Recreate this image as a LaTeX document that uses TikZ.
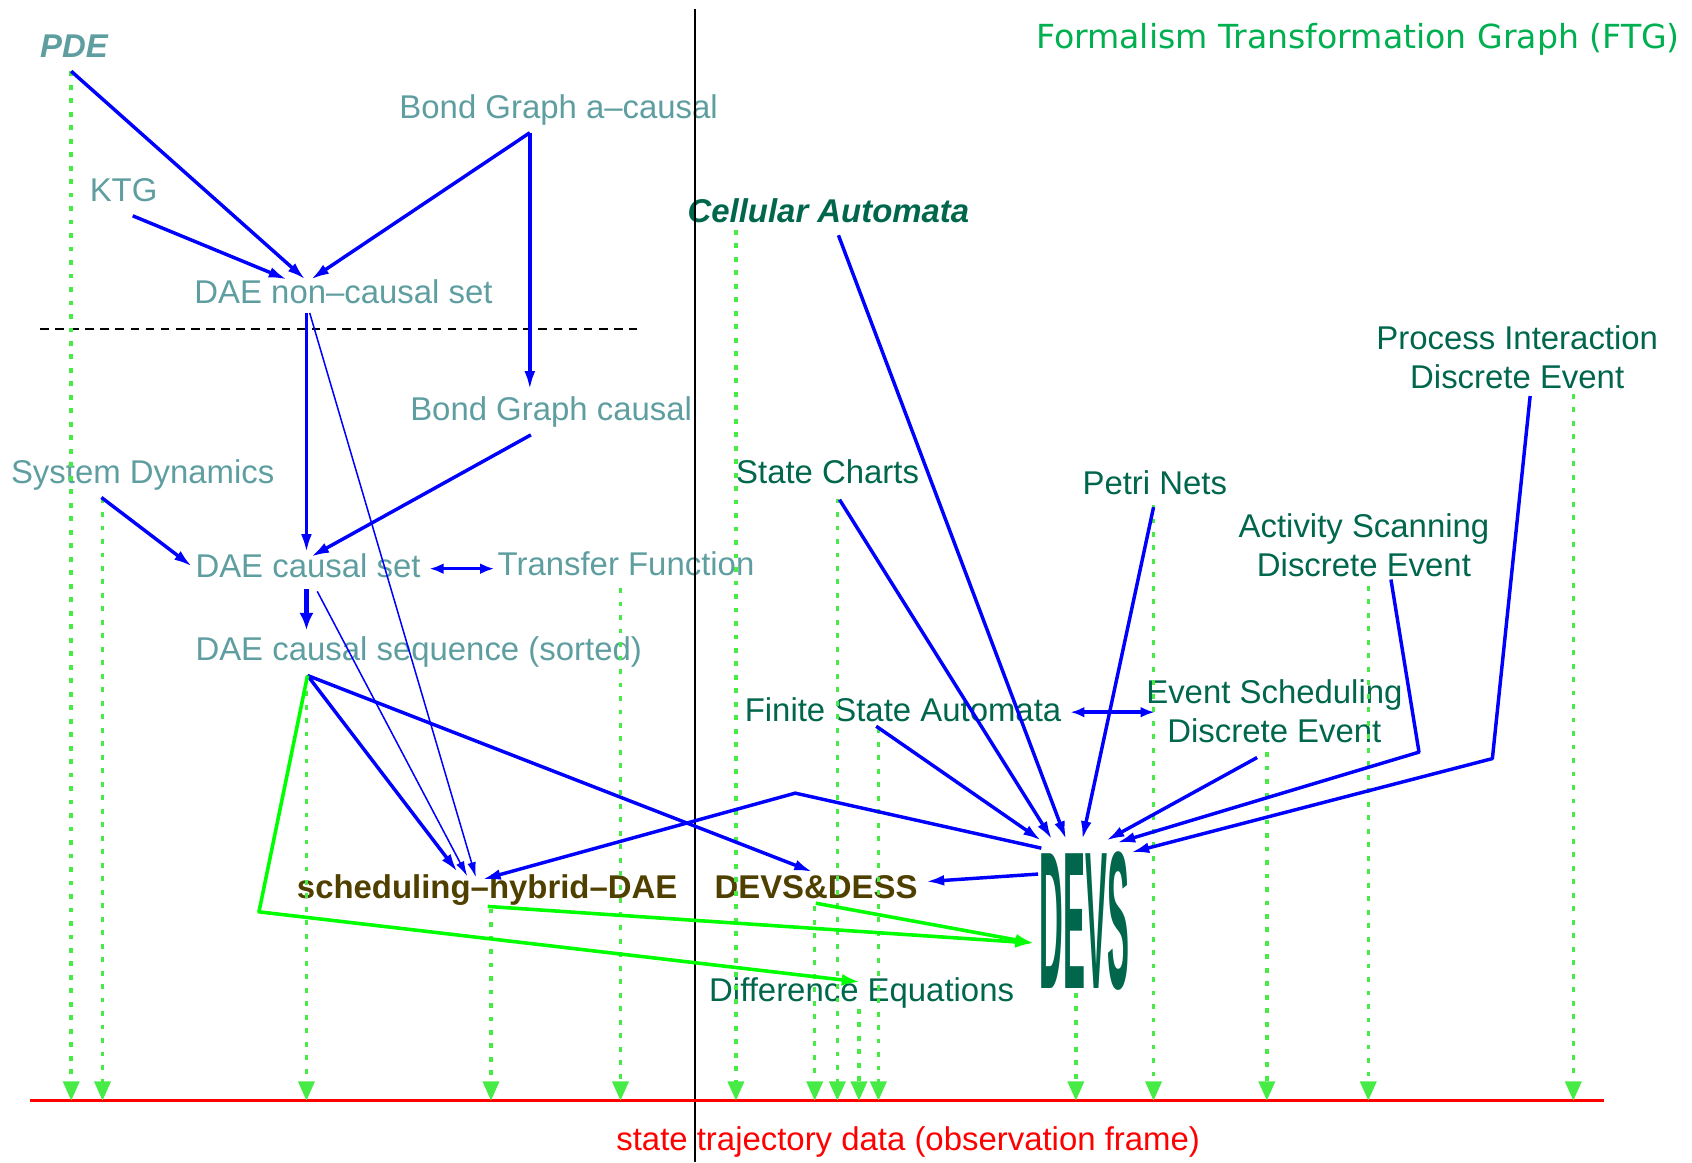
\documentclass[tikz,border=0pt]{standalone}
\usepackage{fontspec}
\setmainfont{Liberation Sans}
\newfontfamily\titlefont{DejaVu Sans}
\usetikzlibrary{arrows.meta}
\definecolor{teal1}{RGB}{95,158,160}
\definecolor{dgreen}{RGB}{0,102,76}
\definecolor{olive1}{RGB}{80,64,0}
\definecolor{tgreen}{RGB}{0,176,80}
\definecolor{lime1}{RGB}{0,255,0}
\definecolor{dotgreen}{RGB}{70,235,70}
\definecolor{blue1}{RGB}{0,0,255}
\begin{document}
\begin{tikzpicture}[x=1pt,y=-1pt,
  lbl/.style={inner sep=0pt, anchor=base west, font=\fontsize{30.5}{36}\selectfont},
  tealtxt/.style={lbl, text=teal1},
  greentxt/.style={lbl, text=dgreen},
  greentwo/.style={inner sep=0pt, align=center, text=dgreen, font=\fontsize{30.5}{36}\selectfont},
  oltxt/.style={lbl, text=olive1, font=\fontsize{30.5}{36}\selectfont\bfseries},
  barrow/.style={draw=blue1, line width=3.2pt, line join=round, -{Latex[length=17pt,width=10pt]}},
  thickarrow/.style={draw=blue1, line width=4.5pt, -{Latex[length=16pt,width=13pt]}},
  thinarrow/.style={draw=blue1, line width=1.4pt, -{Latex[length=14pt,width=8pt]}},
  dbarrow/.style={draw=blue1, line width=3.2pt, {Latex[length=13pt,width=10pt]}-{Latex[length=13pt,width=10pt]}},
  garrow/.style={draw=lime1, line width=3.3pt, line join=round, -{Latex[length=17pt,width=11pt]}},
  obs/.style={draw=dotgreen, line width=3.2pt, dash pattern=on 4.5pt off 8pt, -{Triangle[length=18pt,width=15pt]}},
]
\useasboundingbox (0,0) rectangle (1568,1077);

% ---------- texts ----------
\node[tealtxt, font=\fontsize{30.5}{36}\selectfont\bfseries\itshape] (pde) at (37,53) {PDE};
\node[tealtxt] (bga) at (370,110) {Bond Graph a--causal};
\node[tealtxt] (ktg) at (83,187) {KTG};
\node[tealtxt] (dnc) at (180,281) {DAE non--causal set};
\node[tealtxt] (bgc) at (380,390) {Bond Graph causal};
\node[tealtxt] (sd) at (10,448) {System Dynamics};
\node[tealtxt] (dcs) at (181,535) {DAE causal set};
\node[tealtxt] (tf) at (461,533) {Transfer Function};
\node[tealtxt] (dseq) at (181,612) {DAE causal sequence (sorted)};

\node[greentxt, font=\fontsize{30.5}{36}\selectfont\bfseries\itshape] (ca) at (637,206) {Cellular Automata};
\node[greentwo] (pi) at (1406,331) {Process Interaction\\Discrete Event};
\node[greentxt] (sc) at (682,448) {State Charts};
\node[greentxt] (pn) at (1003,458) {Petri Nets};
\node[greentwo] (as) at (1264,505) {Activity Scanning\\Discrete Event};
\node[greentwo] (es) at (1181,659) {Event Scheduling\\Discrete Event};
\node[greentxt] (fsa) at (690,669) {Finite State Automata};
\node[oltxt] (shd) at (275,833) {scheduling--hybrid--DAE};
\node[oltxt] (dd) at (662,833) {DEVS\&DESS};
\node[greentxt] (de) at (657,928) {Difference Equations};
\node[inner sep=0pt, anchor=base west, text=dgreen] (devs) at (963,916)
  {\scalebox{0.305}[1.816]{\fontsize{100}{100}\selectfont\bfseries DEVS}};
\node[inner sep=0pt, anchor=base west, text=tgreen, font=\titlefont\fontsize{30.7}{36}\selectfont] (title) at (960,45)
  {Formalism Transformation Graph (FTG)};
\node[inner sep=0pt, anchor=base west, text=red, font=\fontsize{30.5}{36}\selectfont] (std) at (571,1066)
  {state trajectory data (observation frame)};

% ---------- frame lines ----------
\coordinate (vtop) at (644,8);
\coordinate (vbot) at (644,1077);
\draw[black, line width=1.3pt] (vtop) -- (vbot);
\coordinate (dl) at (37,305);
\coordinate (dr) at (590,305);
\draw[black, line width=1.5pt, dash pattern=on 8pt off 6pt] (dl) -- (dr);
\coordinate (rl) at (28,1020);
\coordinate (rr) at (1486,1020);
\draw[red, line width=2.5pt] (rl) -- (rr);

% ---------- observation (dotted) arrows ----------
\foreach \n/\x/\y in {o1/66/66, o2/95/462, o3/284/628, o4/455/842, o5/575/545,
  o6/682/213, o7/755/840, o8/776/462, o9/796/935, o10/814/675, o11/997/920,
  o12/1069/468, o13/1174/697, o14/1268/543, o15/1458/365}{
  \coordinate (\n) at (\x,\y);
  \draw[obs] (\n) -- (\n |- rl);
}

% ---------- connector points ----------
\coordinate (pde-o) at (66,66);
\coordinate (ktg-o) at (123,200);
\coordinate (bga-o) at (491,123);
\coordinate (dnc-i1) at (283,259);
\coordinate (dnc-i2) at (266,259);
\coordinate (dnc-i3) at (288,259);
\coordinate (bgc-i) at (491,361);
\coordinate (dnc-o) at (284,290);
\coordinate (dnc-o2) at (287,290);
\coordinate (dcs-i1) at (284,512);
\coordinate (dcs-i2) at (288,516);
\coordinate (dcs-i3) at (178,525);
\coordinate (bgc-o) at (492,403);
\coordinate (sd-o) at (94,461);
\coordinate (dcs-r) at (398,527);
\coordinate (tf-l) at (458,527);
\coordinate (dcs-o) at (284,546);
\coordinate (dcs-o2) at (294,548);
\coordinate (dseq-i) at (284,584);
\coordinate (dseq-o) at (285,626);
\coordinate (shd-i1) at (424,808);
\coordinate (shd-i2) at (433,812);
\coordinate (shd-i3) at (441,813);
\coordinate (shd-i4) at (447,815);
\coordinate (dd-i) at (753,808);
\coordinate (dd-r) at (858,817);
\coordinate (peak) at (737,735);
\coordinate (devs-tl) at (965,786);
\coordinate (devs-l) at (962,810);
\coordinate (devs-i1) at (988,778);
\coordinate (devs-i2) at (975,778);
\coordinate (devs-i3) at (1003,778);
\coordinate (devs-i4) at (965,779);
\coordinate (devs-i5) at (1025,779);
\coordinate (devs-i6) at (1035,781);
\coordinate (devs-i7) at (1048,790);
\coordinate (devs-g) at (958,874);
\coordinate (ca-o) at (777,218);
\coordinate (sc-o) at (778,463);
\coordinate (pn-o) at (1069,470);
\coordinate (fsa-o) at (812,673);
\coordinate (fsa-r) at (992,660);
\coordinate (es-l) at (1070,660);
\coordinate (es-o) at (1165,702);
\coordinate (as-o) at (1289,537);
\coordinate (as-k) at (1315,697);
\coordinate (pi-o) at (1418,367);
\coordinate (pi-k) at (1383,703);
\coordinate (g-k) at (240,845);
\coordinate (de-i) at (797,910);
\coordinate (shd-o) at (452,840);
\coordinate (dd-o) at (756,837);

% ---------- blue connectors ----------
\draw[barrow] (pde-o) -- (dnc-i1);
\draw[barrow] (ktg-o) -- (dnc-i2);
\draw[barrow] (bga-o) -- (dnc-i3);
\draw[barrow] (bga-o) -- (bgc-i);
\draw[barrow] (dnc-o) -- (dcs-i1);
\draw[thinarrow] (dnc-o2) -- (shd-i3);
\draw[barrow] (bgc-o) -- (dcs-i2);
\draw[barrow] (sd-o) -- (dcs-i3);
\draw[dbarrow] (dcs-r) -- (tf-l);
\draw[thickarrow] (dcs-o) -- (dseq-i);
\draw[thinarrow] (dcs-o2) -- (shd-i2);
\draw[barrow] (dseq-o) -- (shd-i1);
\draw[barrow] (dseq-o) -- (dd-i);
\draw[barrow] (devs-tl) -- (peak) -- (shd-i4);
\draw[barrow] (devs-l) -- (dd-r);
\draw[barrow] (ca-o) -- (devs-i1);
\draw[barrow] (sc-o) -- (devs-i2);
\draw[barrow] (pn-o) -- (devs-i3);
\draw[barrow] (fsa-o) -- (devs-i4);
\draw[dbarrow] (fsa-r) -- (es-l);
\draw[barrow] (es-o) -- (devs-i5);
\draw[barrow] (as-o) -- (as-k) -- (devs-i6);
\draw[barrow] (pi-o) -- (pi-k) -- (devs-i7);

% ---------- green connectors ----------
\draw[garrow] (dseq-o) -- (g-k) -- (de-i);
\draw[garrow] (shd-o) -- (devs-g);
\draw[garrow] (dd-o) -- (devs-g);
\end{tikzpicture}
\end{document}
